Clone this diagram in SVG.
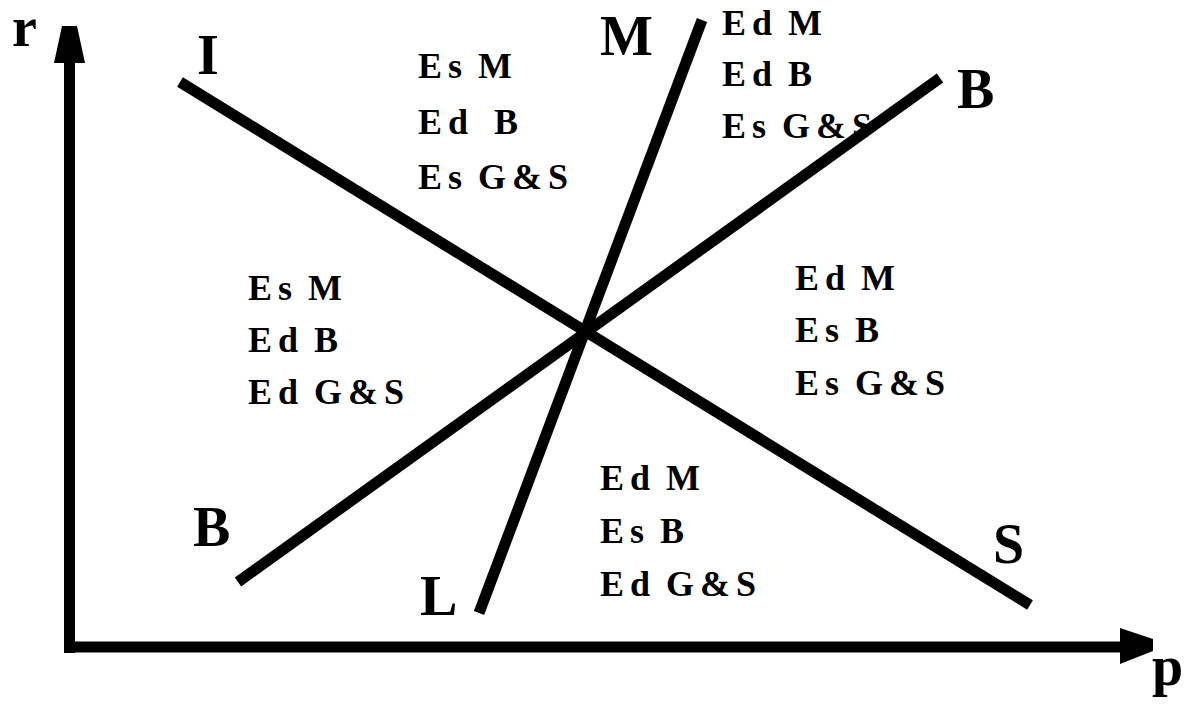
<svg xmlns="http://www.w3.org/2000/svg" width="1189" height="705" viewBox="0 0 1189 705">
<style>
.ln{stroke:#000;stroke-width:11;fill:none;stroke-linecap:butt}
.big{font-family:"Liberation Serif","Times New Roman",serif;font-weight:bold;font-size:56px;fill:#000}
.reg{font-family:"Liberation Serif","Times New Roman",serif;font-weight:bold;font-size:36px;letter-spacing:6px;word-spacing:-5px;fill:#000;white-space:pre}
</style>
<rect width="1189" height="705" fill="#fff"/>
<g id="connectors">
<line class="ln" x1="69.5" y1="60" x2="69.5" y2="653"/>
<polygon points="62,26 77,26 85,63 54,63" fill="#000"/>
<line class="ln" x1="64" y1="647" x2="1130" y2="647"/>
<polygon points="1120,628 1153,639 1153,651 1120,664" fill="#000"/>
<line class="ln" x1="180" y1="82" x2="1030" y2="605"/>
<line class="ln" x1="238" y1="582" x2="940" y2="78"/>
<line class="ln" x1="479" y1="613" x2="702" y2="20"/>
</g>
<g id="axis-r"><text class="big" x="12" y="46">r</text></g>
<g id="axis-p"><text class="big" x="1152" y="685">p</text></g>
<g id="label-I"><text class="big" x="197" y="74">I</text></g>
<g id="label-M"><text class="big" x="600" y="55">M</text></g>
<g id="label-B-top"><text class="big" x="957" y="108">B</text></g>
<g id="label-B-bottom"><text class="big" x="193" y="546">B</text></g>
<g id="label-L"><text class="big" x="420" y="615">L</text></g>
<g id="label-S"><text class="big" x="993" y="563">S</text></g>
<g id="region-top">
<text class="reg" x="418" y="78">Es M</text>
<text class="reg" x="418" y="134">Ed  B</text>
<text class="reg" x="418" y="189">Es G&amp;S</text>
</g>
<g id="region-top-right">
<text class="reg" x="722" y="35">Ed M</text>
<text class="reg" x="722" y="86">Ed B</text>
<text class="reg" x="722" y="138">Es G&amp;S</text>
</g>
<g id="region-left">
<text class="reg" x="248" y="300">Es M</text>
<text class="reg" x="248" y="352">Ed B</text>
<text class="reg" x="248" y="404">Ed G&amp;S</text>
</g>
<g id="region-right">
<text class="reg" x="795" y="290">Ed M</text>
<text class="reg" x="795" y="342">Es B</text>
<text class="reg" x="795" y="395">Es G&amp;S</text>
</g>
<g id="region-bottom">
<text class="reg" x="600" y="490">Ed M</text>
<text class="reg" x="600" y="543">Es B</text>
<text class="reg" x="600" y="596">Ed G&amp;S</text>
</g>
</svg>
